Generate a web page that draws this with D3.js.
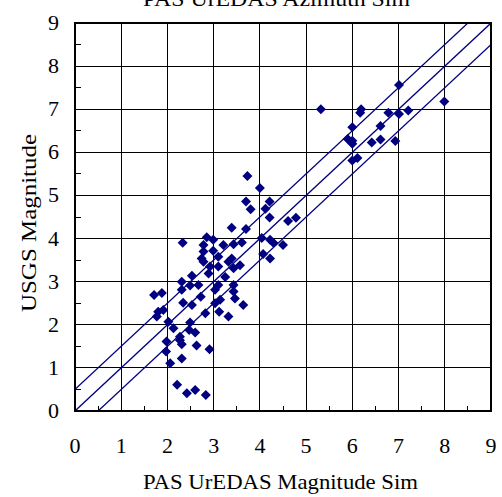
<!DOCTYPE html>
<html><head><meta charset="utf-8">
<script src="https://cdn.jsdelivr.net/npm/d3@7"></script>
<style>body{margin:0;background:#fff}svg{display:block}</style>
</head><body>
<script>
const titleText = "PAS UrEDAS Azimuth Sim";
const xTitle = "PAS UrEDAS Magnitude Sim";
const yTitle = "USGS Magnitude";
const tickValues = [0,1,2,3,4,5,6,7,8,9];
const refOffsets = [0.5, 0, -0.5];
const pasMag = [
 5.32,6.19,6.17,7.01,7.99,6.78,7.01,7.21,6.0,6.61,5.90,6.0,6.0,6.42,6.61,6.93,6.0,6.11,
 3.73,4.0,3.70,3.80,4.21,4.12,4.21,4.78,4.61,4.5,3.39,3.70,4.04,4.22,4.29,4.07,4.22,
 2.33,2.85,2.99,2.78,3.21,3.43,3.61,2.78,2.99,3.10,3.39,3.57,2.74,2.78,2.92,3.10,3.32,3.43,2.89,3.25,2.53,2.31,2.49,2.67,3.10,3.43,3.03,3.43,3.46,3.64,3.14,3.03,2.72,2.31,2.34,2.53,2.82,3.12,3.32,1.71,1.88,
 1.80,1.91,1.77,2.02,2.13,2.49,2.47,2.60,2.27,1.98,2.27,2.31,2.63,2.91,1.97,2.06,2.31,2.21,2.42,2.60,2.83
];
const usgsMag = [
 7.00,7.00,6.92,7.56,7.18,6.92,6.89,6.97,6.58,6.61,6.31,6.27,6.20,6.23,6.30,6.26,5.81,5.87,
 5.45,5.17,4.86,4.68,4.86,4.69,4.49,4.48,4.41,3.85,4.25,4.22,4.01,3.97,3.90,3.64,3.54,
 3.90,4.03,3.97,3.85,3.85,3.87,3.91,3.70,3.72,3.58,3.54,3.38,3.54,3.46,3.35,3.35,3.46,3.31,3.19,3.11,3.14,3.00,2.91,2.92,2.92,2.92,2.81,2.77,2.61,2.46,2.58,2.50,2.65,2.81,2.51,2.46,2.27,2.30,2.19,2.69,2.74,
 2.30,2.34,2.19,2.07,1.92,2.05,1.88,1.82,1.72,1.61,1.64,1.55,1.52,1.43,1.38,1.11,1.22,0.61,0.41,0.49,0.37
];

const W = 502, H = 497;
const svg = d3.select("body").append("svg").attr("width", W).attr("height", H);
const font = "'Liberation Serif', serif";
const x = d3.scaleLinear().domain([0,9]).range([75,491]);
const y = d3.scaleLinear().domain([0,9]).range([411,23]);

svg.append("defs").append("clipPath").attr("id","clip")
  .append("rect").attr("x",x(0)).attr("y",y(9)).attr("width",x(9)-x(0)).attr("height",y(0)-y(9));

// grid
const g = svg.append("g");
g.selectAll(".vg").data(tickValues.slice(1,-1)).join("line")
  .attr("x1",d=>x(d)).attr("x2",d=>x(d)).attr("y1",y(0)).attr("y2",y(9))
  .attr("stroke","#000").attr("stroke-width",1).attr("shape-rendering","crispEdges");
g.selectAll(".hg").data(tickValues.slice(1,-1)).join("line")
  .attr("y1",d=>y(d)).attr("y2",d=>y(d)).attr("x1",x(0)).attr("x2",x(9))
  .attr("stroke","#000").attr("stroke-width",1).attr("shape-rendering","crispEdges");

// minor ticks
const halves = tickValues.slice(0,-1).map(d=>d+0.5);
g.selectAll(".mx").data(halves).join("line")
  .attr("x1",d=>x(d)).attr("x2",d=>x(d)).attr("y1",y(0)).attr("y2",y(0)-5)
  .attr("stroke","#000").attr("stroke-width",1).attr("shape-rendering","crispEdges");
g.selectAll(".my").data(halves).join("line")
  .attr("y1",d=>y(d)).attr("y2",d=>y(d)).attr("x1",x(0)).attr("x2",x(0)+6)
  .attr("stroke","#000").attr("stroke-width",1).attr("shape-rendering","crispEdges");

// reference lines
const line = d3.line().x(d=>x(d[0])).y(d=>y(d[1]));
svg.append("g").attr("clip-path","url(#clip)").selectAll("path").data(refOffsets).join("path")
  .attr("d", o => line([[-1,-1+o],[10,10+o]]))
  .attr("fill","none").attr("stroke","#000080").attr("stroke-width",1.3);

// points
const pts = pasMag.map((v,i)=>[v, usgsMag[i]]);
svg.append("g").selectAll("path").data(pts).join("path")
  .attr("d","M0,-5L5,0L0,5L-5,0Z")
  .attr("transform",d=>`translate(${x(d[0])},${y(d[1])})`)
  .attr("fill","#000080");

// border
svg.append("rect").attr("x",x(0)).attr("y",y(9)).attr("width",x(9)-x(0)).attr("height",y(0)-y(9))
  .attr("fill","none").attr("stroke","#000").attr("stroke-width",2);

// tick labels
svg.append("g").selectAll("text").data(tickValues).join("text")
  .attr("x",d=>x(d)).attr("y",453).attr("text-anchor","middle")
  .attr("font-family",font).attr("font-size",22).attr("fill","#000").text(d=>d);
svg.append("g").selectAll("text").data(tickValues).join("text")
  .attr("x",59).attr("y",d=>y(d)+7).attr("text-anchor","end")
  .attr("font-family",font).attr("font-size",22).attr("fill","#000").text(d=>d);

// titles
svg.append("text").attr("x",143).attr("y",489).attr("textLength",275).attr("lengthAdjust","spacingAndGlyphs")
  .attr("font-family",font).attr("font-size",22).attr("fill","#000").text(xTitle);
svg.append("text").attr("transform","translate(36,312) rotate(-90)").attr("textLength",178).attr("lengthAdjust","spacingAndGlyphs")
  .attr("font-family",font).attr("font-size",22).attr("fill","#000").text(yTitle);
svg.append("text").attr("x",143).attr("y",6).attr("textLength",267).attr("lengthAdjust","spacingAndGlyphs")
  .attr("font-family",font).attr("font-size",22).attr("fill","#000").text(titleText);
</script>
</body></html>
